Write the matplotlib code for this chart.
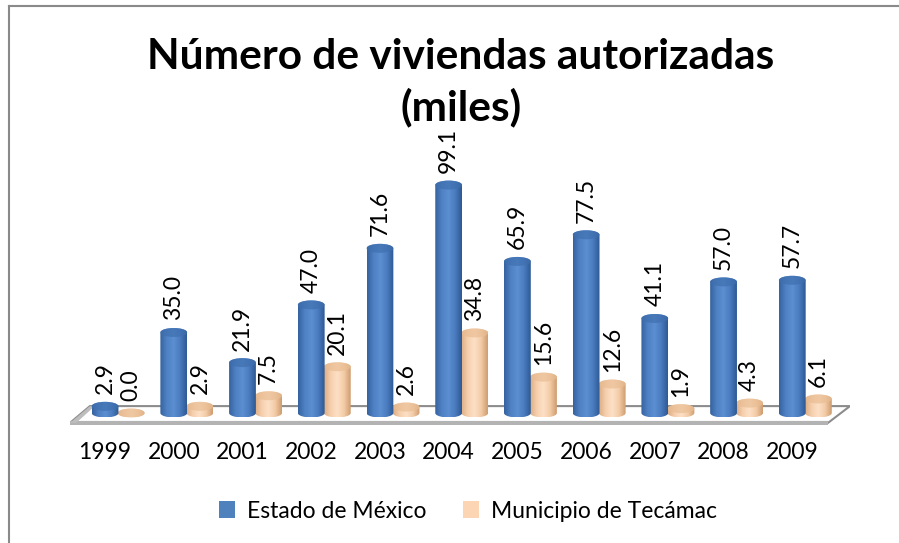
import numpy as np
import matplotlib
matplotlib.use("Agg")
import matplotlib.pyplot as plt
from matplotlib.patches import Polygon, Ellipse, Patch
from matplotlib.lines import Line2D
from matplotlib.colors import LinearSegmentedColormap

# data (miles de viviendas)
years = ["1999", "2000", "2001", "2002", "2003", "2004",
         "2005", "2006", "2007", "2008", "2009"]
estado = [2.9, 35.0, 21.9, 47.0, 71.6, 99.1, 65.9, 77.5, 41.1, 57.0, 57.7]
tecamac = [0.0, 2.9, 7.5, 20.1, 2.6, 34.8, 15.6, 12.6, 1.9, 4.3, 6.1]
series_names = ["Estado de México", "Municipio de Tecámac"]

plt.rcParams['font.family'] = ['Lato', 'DejaVu Sans']

W, H = 899, 543
fig = plt.figure(figsize=(W / 100, H / 100), dpi=100)
fig.patch.set_facecolor("white")

# plot area, in pixels: left 70, right 850, top 150, bottom 425
ax = fig.add_axes([70 / W, 1 - 425 / H, 780 / W, 275 / H])
xlim = (-0.51, 10.84)
ylim = (-5.22, 114.35)

blue_cmap = LinearSegmentedColormap.from_list(
    "blue", ["#36639f", "#4f81c4", "#5b8fd2", "#4a7cbf", "#2e5a95"])
peach_cmap = LinearSegmentedColormap.from_list(
    "peach", ["#dcae84", "#f6d0ae", "#fde0c6", "#f3cba6", "#cf9d70"])

bar_w = 0.39
offset = 0.38
ell_h = 3.9  # height of the cylinder ellipses in data units

# floor of the 3d plot
floor = Polygon([(-0.22, 3.0), (10.84, 3.0), (10.52, -4.3), (-0.51, -4.3)],
                closed=True, facecolor="white", edgecolor="#8c8c8c",
                lw=1.5, zorder=1)
ax.add_patch(floor)
ax.plot([-0.51, 10.52], [-4.3, -4.3], color="#b3b3b3", lw=3,
        solid_capstyle="butt", zorder=1)
ax.add_patch(Polygon([(-0.51, -4.3), (-0.22, 3.0), (-0.15, 3.0), (-0.42, -4.3)],
                     closed=True, facecolor="#bdbdbd", edgecolor="none", zorder=1))


def cylinder(xc, v, cmap, top_color, z):
    left = xc - bar_w / 2
    t1 = np.linspace(np.pi, 2 * np.pi, 40)
    t2 = np.linspace(0, np.pi, 40)
    xs = np.concatenate([xc + bar_w / 2 * np.cos(t1), xc + bar_w / 2 * np.cos(t2)])
    ys = np.concatenate([ell_h / 2 * np.sin(t1), v + ell_h / 2 * np.sin(t2)])
    shape = Polygon(np.column_stack([xs, ys]), closed=True,
                    facecolor="none", edgecolor="none", zorder=z)
    ax.add_patch(shape)
    grad = np.linspace(0, 1, 64).reshape(1, -1)
    im = ax.imshow(grad, cmap=cmap, aspect="auto", zorder=z,
                   extent=[left, left + bar_w, -ell_h / 2, v + ell_h / 2])
    im.set_clip_path(shape)
    ax.add_patch(Ellipse((xc, v), bar_w, ell_h, facecolor=top_color,
                         edgecolor="none", alpha=0.7, zorder=z + 0.1))


for i in range(len(years)):
    cylinder(i + offset, tecamac[i], peach_cmap, "#e9bd93", 2)
    cylinder(i, estado[i], blue_cmap, "#3f6fae", 3)
    ax.annotate(f"{estado[i]:.1f}", (i, estado[i]), xytext=(0, 12),
                textcoords="offset pixels", rotation=90, ha="center",
                va="bottom", fontsize=16.5, zorder=5)
    ax.annotate(f"{tecamac[i]:.1f}", (i + offset, tecamac[i]), xytext=(0, 12),
                textcoords="offset pixels", rotation=90, ha="center",
                va="bottom", fontsize=16.5, zorder=5)

ax.set_xlim(*xlim)
ax.set_ylim(*ylim)
ax.set_xticks(range(len(years)), years, fontsize=16.5)
ax.tick_params(axis="x", length=0, pad=12)
ax.set_yticks([])
for s in ax.spines.values():
    s.set_visible(False)

fig.text(461 / W, 1 - 57 / H, "Número de viviendas autorizadas",
         fontsize=30.5, weight="bold", ha="center", va="center")
fig.text(461 / W, 1 - 107 / H, "(miles)",
         fontsize=30.5, weight="bold", ha="center", va="center")

handles = [Patch(facecolor="#4f81bd", edgecolor="none"),
           Patch(facecolor="#fcd5b5", edgecolor="none")]
fig.legend(handles, series_names, loc="center", ncol=2,
           bbox_to_anchor=(468 / W, 1 - 511 / H), frameon=False,
           fontsize=16.5, handlelength=0.7, handleheight=0.7,
           handletextpad=0.5, columnspacing=1.6)

# chart area border (only top and left edges visible)
fig.add_artist(Line2D([9 / W, 9 / W], [0, 1 - 6 / H], color="#8a8a8a", lw=1.5))
fig.add_artist(Line2D([9 / W, 1], [1 - 6 / H, 1 - 6 / H], color="#8a8a8a", lw=1.5))

fig.savefig("out.png", dpi=100)
